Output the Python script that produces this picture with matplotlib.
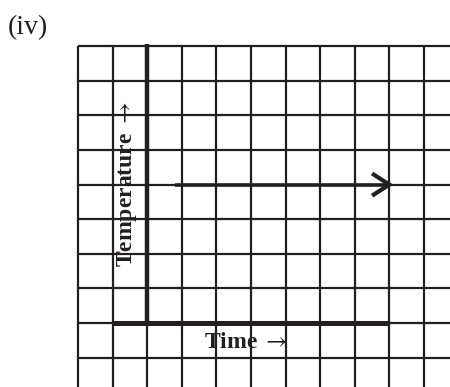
import numpy as np
import matplotlib.pyplot as plt

plt.rcParams['mathtext.fontset'] = 'stix'

# grid in cell units: x=0 is the first vertical line, y=0 is the time axis
grid_x = np.arange(0, 11)
grid_y = np.arange(-1, 9)

# axes of the sketch
time_axis_x = [1, 9]
time_axis_y = [0, 0]
temp_axis_x = [2, 2]
temp_axis_y = [0, 8.05]

# horizontal arrow (constant temperature)
arrow_x = [2.8, 9.0]
arrow_y = [4, 4]

ink = '#231f20'
cell = 34.6  # pixels per cell

fig = plt.figure(figsize=(4.5, 3.87), dpi=100)
ax = fig.add_axes([0, 0, 1, 1])
ax.set_xlim(-78 / cell, (450 - 78) / cell)
ax.set_ylim(-(387 - 323) / cell, 323 / cell)
ax.axis('off')

y_bottom = ax.get_ylim()[0]
x_right = ax.get_xlim()[1]
for gx in grid_x:
    ax.plot([gx, gx], [y_bottom, grid_y.max()], color=ink, lw=1.6,
            solid_capstyle='butt')
for gy in grid_y:
    ax.plot([grid_x.min(), x_right], [gy, gy], color=ink, lw=1.6,
            solid_capstyle='butt')

ax.plot(temp_axis_x, temp_axis_y, color=ink, lw=3.2, solid_capstyle='butt')
ax.plot(time_axis_x, time_axis_y, color=ink, lw=3.6, solid_capstyle='butt')

ax.plot(arrow_x, arrow_y, color=ink, lw=2.6, solid_capstyle='butt')
tip_x, tip_y = arrow_x[-1], arrow_y[-1]
ax.plot([tip_x - 0.5, tip_x, tip_x - 0.5], [tip_y + 0.32, tip_y, tip_y - 0.32],
        color=ink, lw=3.0, solid_capstyle='butt', solid_joinstyle='miter')

serif = ['Liberation Serif', 'DejaVu Serif']
ax.text(-1.445, 8.55, '(iv)', fontsize=20, family=serif, color=ink,
        ha='center', va='center')
ax.text(1.42, 4.0, r'Temperature $\rightarrow$', fontsize=17, family=serif,
        fontweight='bold', color=ink, rotation=90, ha='center', va='center')
ax.text(4.86, -0.55, r'Time $\rightarrow$', fontsize=17, family=serif,
        fontweight='bold', color=ink, ha='center', va='center')

fig.savefig('out.png', dpi=100)
